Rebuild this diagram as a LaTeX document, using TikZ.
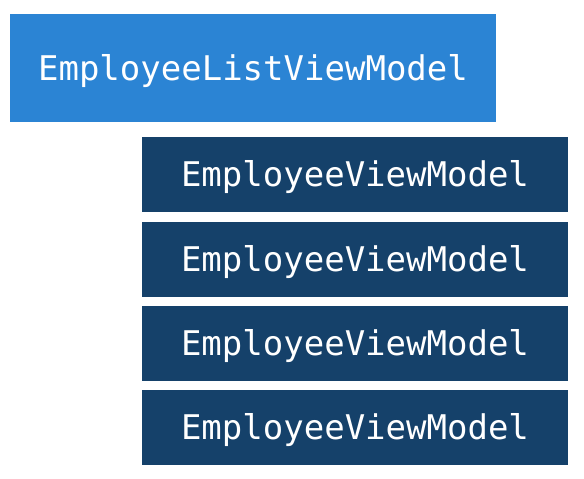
\documentclass[tikz,border=0pt]{standalone}
\usepackage{fontspec}
\setmonofont{DejaVu Sans Mono}
\definecolor{lightblue}{RGB}{43,132,212}
\definecolor{navy}{RGB}{21,65,106}
\begin{document}
\begin{tikzpicture}[x=1pt,y=1pt,
  box/.style={rectangle, inner sep=0pt, draw=none},
  lbl/.style={text=white, font=\ttfamily\fontsize{34}{40}\selectfont, anchor=base, inner sep=0pt}]
\useasboundingbox (0,0) rectangle (584,479);
\node[box, fill=lightblue, minimum width=486, minimum height=108] (list) at (253,411) {};
\node[lbl] (listt) at ([yshift=-12.5]list.center) {EmployeeListViewModel};
\foreach \i/\y in {1/304.5, 2/219.5, 3/135.5, 4/51.5}{
  \node[box, fill=navy, minimum width=426, minimum height=75] (vm\i) at (355,\y) {};
  \node[lbl] (vmt\i) at ([yshift=-12.5]vm\i.center) {EmployeeViewModel};
}
\end{tikzpicture}
\end{document}
